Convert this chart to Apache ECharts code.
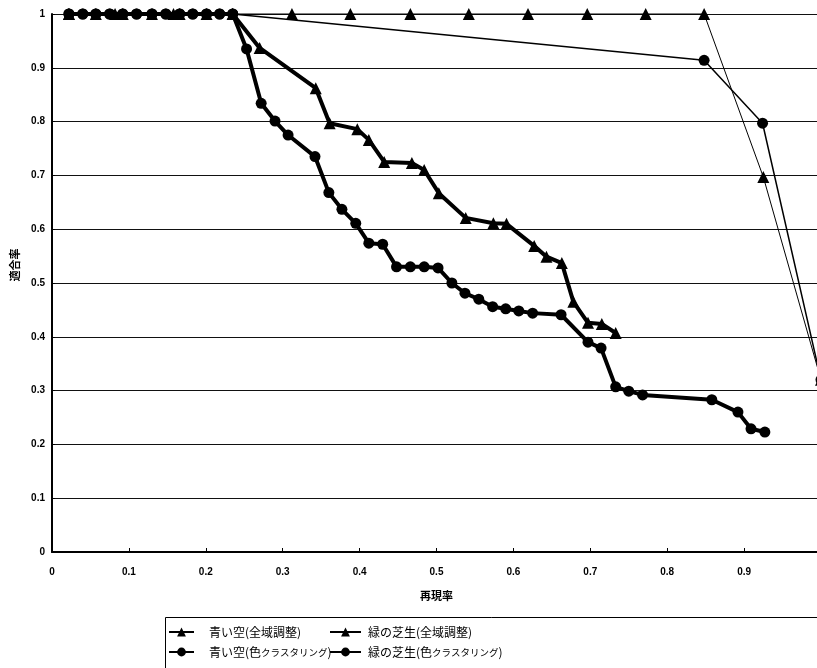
<!DOCTYPE html>
<html>
<head>
<meta charset="utf-8">
<script src="https://cdn.jsdelivr.net/npm/echarts@6/dist/echarts.min.js"></script>
<style>
html,body{margin:0;padding:0;background:#fff;}
#chart{width:817px;height:668px;}
</style>
</head>
<body>
<div id="chart"></div>
<script>
// ---- data ----
const seriesNames = ['青い空(全域調整)', '緑の芝生(全域調整)', '青い空(色クラスタリング)', '緑の芝生(色クラスタリング)'];
const xAxisTitle = '再現率';
const yAxisTitle = '適合率';

const blueGlobalX = [0.022, 0.082, 0.158, 0.235, 0.312, 0.388, 0.466, 0.542, 0.619, 0.696, 0.772, 0.848, 0.925, 1.0];
const blueGlobalY = [1, 1, 1, 1, 1, 1, 1, 1, 1, 1, 1, 1, 0.697, 0.32];

const greenGlobalX = [0.022, 0.057, 0.092, 0.130, 0.166, 0.201, 0.235, 0.270, 0.343, 0.361, 0.397, 0.412, 0.432, 0.468, 0.484, 0.503, 0.538, 0.574, 0.591, 0.627, 0.643, 0.663, 0.678, 0.697, 0.715, 0.733];
const greenGlobalY = [1, 1, 1, 1, 1, 1, 1, 0.937, 0.862, 0.797, 0.786, 0.766, 0.725, 0.723, 0.710, 0.667, 0.621, 0.611, 0.610, 0.569, 0.549, 0.537, 0.465, 0.426, 0.424, 0.407];

const blueColorX = [0.022, 0.040, 0.057, 0.075, 0.092, 0.110, 0.130, 0.148, 0.166, 0.183, 0.201, 0.218, 0.235, 0.848, 0.924, 1.0];
const blueColorY = [1, 1, 1, 1, 1, 1, 1, 1, 1, 1, 1, 1, 1, 0.914, 0.797, 0.32];

const greenColorX = [0.022, 0.040, 0.057, 0.075, 0.092, 0.110, 0.130, 0.148, 0.166, 0.183, 0.201, 0.218, 0.235,
  0.253, 0.272, 0.290, 0.307, 0.342, 0.360, 0.377, 0.395, 0.412, 0.430, 0.448, 0.466, 0.484, 0.502, 0.520, 0.537,
  0.555, 0.573, 0.590, 0.607, 0.625, 0.662, 0.697, 0.714, 0.733, 0.750, 0.768, 0.858, 0.892, 0.909, 0.927];
const greenColorY = [1, 1, 1, 1, 1, 1, 1, 1, 1, 1, 1, 1, 1,
  0.935, 0.834, 0.801, 0.775, 0.735, 0.668, 0.637, 0.611, 0.574, 0.572, 0.530, 0.530, 0.530, 0.528, 0.500, 0.481,
  0.470, 0.456, 0.452, 0.448, 0.444, 0.441, 0.390, 0.379, 0.307, 0.299, 0.292, 0.283, 0.260, 0.229, 0.223];

const xTickLabels = ['0', '0.1', '0.2', '0.3', '0.4', '0.5', '0.6', '0.7', '0.8', '0.9'];
const yTickLabels = ['0', '0.1', '0.2', '0.3', '0.4', '0.5', '0.6', '0.7', '0.8', '0.9', '1'];

function zip(xs, ys) { return xs.map((x, i) => [x, ys[i]]); }

const chart = echarts.init(document.getElementById('chart'), null, {renderer: 'canvas'});
const tickFont = {fontFamily: '"Liberation Sans", Arial, sans-serif', fontSize: 10, fontWeight: 'bold', color: '#000'};
const cjk = '"Noto Sans CJK JP", sans-serif';

function lineSeries(name, data, symbol, size, width) {
  return {
    name: name, type: 'line', data: data, symbol: symbol, symbolSize: size,
    showAllSymbol: true, clip: false, animation: false,
    lineStyle: {color: '#000', width: width},
    itemStyle: {color: '#000', borderWidth: 0}
  };
}

// katakana runs drawn a little narrower, as in the original
function legendFormatter(name) {
  return name.replace(/([\u30A0-\u30FF]+)/g, '{k|$1}').replace(/(^|\})([^{}]+)(?=\{|$)/g, '$1{n|$2}');
}
const legendRich = {
  n: {fontFamily: cjk, fontSize: 12, color: '#000', lineHeight: 14},
  k: {fontFamily: cjk, fontSize: 9.5, color: '#000', lineHeight: 14}
};

chart.setOption({
  backgroundColor: '#fff',
  animation: false,
  grid: {left: 52, top: 14, width: 769, height: 538, containLabel: false, outerBoundsMode: 'none'},
  xAxis: {
    type: 'value', min: 0, max: 1, interval: 0.1,
    name: xAxisTitle, nameLocation: 'middle', nameGap: 38,
    nameTextStyle: {fontFamily: cjk, fontSize: 11, fontWeight: 'bold', color: '#000'},
    axisLine: {show: true, lineStyle: {color: '#000', width: 2}},
    axisTick: {show: true, inside: true, length: 4, lineStyle: {color: '#000'}},
    axisLabel: Object.assign({margin: 15, showMaxLabel: false,
      formatter: function (v) { const i = Math.round(v * 10); return i < xTickLabels.length ? xTickLabels[i] : ''; }}, tickFont),
    splitLine: {show: false}
  },
  yAxis: {
    type: 'value', min: 0, max: 1, interval: 0.1,
    name: yAxisTitle, nameLocation: 'middle', nameGap: 26, nameRotate: 90,
    nameTextStyle: {fontFamily: cjk, fontSize: 11, fontWeight: 'bold', color: '#000', padding: [0, 0, 0, 36]},
    axisLine: {show: true, lineStyle: {color: '#000', width: 2}},
    axisTick: {show: true, inside: true, length: 3, lineStyle: {color: '#000'}},
    axisLabel: Object.assign({margin: 7,
      formatter: function (v) { return yTickLabels[Math.round(v * 10)]; }}, tickFont),
    splitLine: {show: true, lineStyle: {color: '#111', width: 1}}
  },
  legend: [
    {
      data: [seriesNames[0], seriesNames[2]], orient: 'vertical', left: 168, top: 625, padding: 0,
      itemWidth: 25, itemHeight: 11, itemGap: 6, selectedMode: false,
      formatter: legendFormatter,
      textStyle: {fontFamily: cjk, fontSize: 12, color: '#000', lineHeight: 14, padding: [0, 0, 0, 10], rich: legendRich}
    },
    {
      data: [seriesNames[1], seriesNames[3]], orient: 'vertical', left: 329, top: 625, padding: 0,
      itemWidth: 31, itemHeight: 11, itemGap: 6, selectedMode: false,
      formatter: legendFormatter,
      textStyle: {fontFamily: cjk, fontSize: 12, color: '#000', lineHeight: 14, padding: [0, 0, 0, 2], rich: legendRich}
    }
  ],
  graphic: [{
    type: 'rect', left: 163, top: 615, z: -1,
    shape: {width: 700, height: 100},
    style: {fill: 'none', stroke: '#000', lineWidth: 1}
  }],
  series: [
    lineSeries(seriesNames[0], zip(blueGlobalX, blueGlobalY), 'triangle', 12, 1),
    lineSeries(seriesNames[1], zip(greenGlobalX, greenGlobalY), 'triangle', 12, 4),
    lineSeries(seriesNames[2], zip(blueColorX, blueColorY), 'circle', 11, 1.5),
    lineSeries(seriesNames[3], zip(greenColorX, greenColorY), 'circle', 11, 4)
  ]
});
</script>
</body>
</html>
